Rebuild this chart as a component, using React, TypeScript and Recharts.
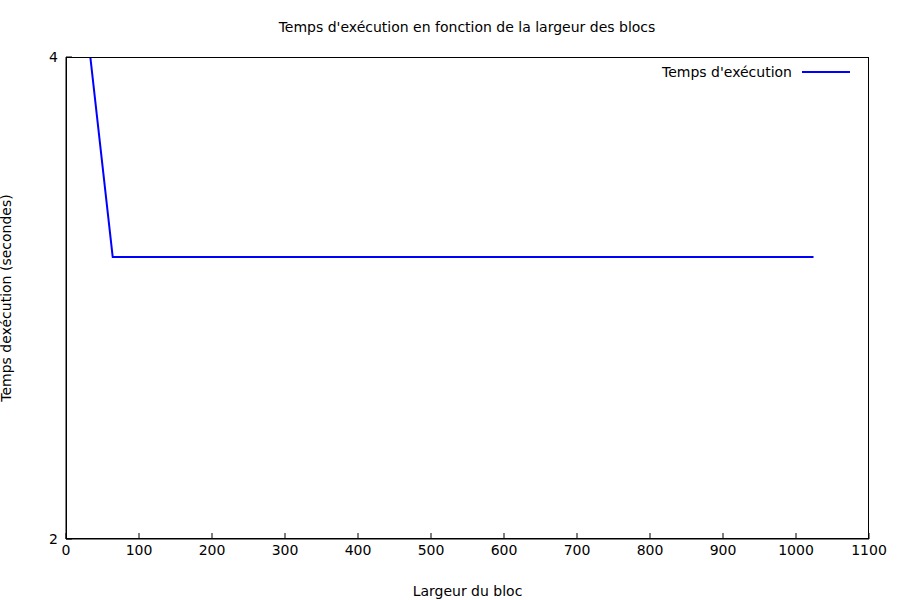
import { LineChart, Line, XAxis, YAxis } from 'recharts';

const blockWidths = [1, 2, 4, 8, 16, 32, 64, 128, 256, 512, 1024];
const execTimes = [120, 60, 30, 16, 8, 4.05, 3, 3, 3, 3, 3];
const xTicks = [0, 100, 200, 300, 400, 500, 600, 700, 800, 900, 1000, 1100];
const yTicks = [2, 4];

const data = blockWidths.map((w, i) => ({ w, t: execTimes[i] }));
const font = { fontFamily: 'DejaVu Sans, sans-serif', fontSize: 14, fill: '#000' };

export default function App() {
  return (
    <div style={{ position: 'absolute', left: 0, top: 0, width: 900, height: 600, background: '#fff' }}>
      <div style={{ position: 'absolute', top: 19, width: 934, textAlign: 'center', fontFamily: 'DejaVu Sans, sans-serif', fontSize: 14 }}>
        Temps d'exécution  en fonction de la largeur des blocs
      </div>
      <LineChart width={900} height={600} data={data} margin={{ top: 57, right: 31, left: 0, bottom: 0 }}>
        <XAxis
          dataKey="w"
          type="number"
          domain={[0, 1100]}
          ticks={xTicks}
          interval={0}
          height={61}
          tick={font}
          tickSize={-6}
          tickMargin={12}
          stroke="#000"
          label={{ value: 'Largeur du bloc', position: 'insideBottom', offset: 4, style: font }}
        />
        <YAxis
          type="number"
          scale="log"
          base={2}
          domain={[2, 4]}
          ticks={yTicks}
          allowDataOverflow
          width={66}
          tick={font}
          tickSize={-6}
          tickMargin={14}
          stroke="#000"
          label={{ value: 'Temps dexécution (secondes)', angle: -90, position: 'insideLeft', offset: 6, style: { ...font, textAnchor: 'middle' } }}
        />
        <Line dataKey="t" stroke="#0000ff" strokeWidth={2} dot={false} isAnimationActive={false} />
      </LineChart>
      <div style={{ position: 'absolute', left: 66, top: 57, width: 803, height: 482, border: '1px solid #000', boxSizing: 'border-box', pointerEvents: 'none' }} />
      <div style={{ position: 'absolute', top: 64, right: 50, display: 'flex', alignItems: 'center', fontFamily: 'DejaVu Sans, sans-serif', fontSize: 14 }}>
        <span>Temps d'exécution</span>
        <svg width={48} height={10} style={{ marginLeft: 10 }}>
          <line x1={0} y1={5} x2={48} y2={5} stroke="#0000ff" strokeWidth={2} />
        </svg>
      </div>
    </div>
  );
}
